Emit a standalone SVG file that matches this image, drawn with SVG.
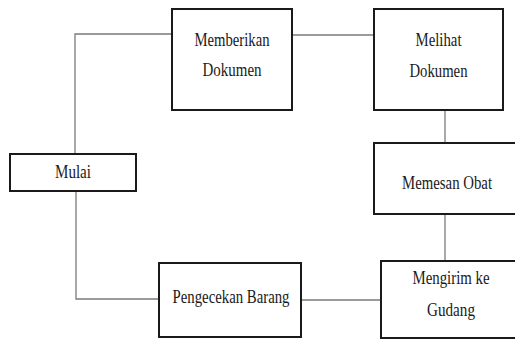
<svg xmlns="http://www.w3.org/2000/svg" width="515" height="341" viewBox="0 0 515 341">
<style>
.box{fill:#fff;stroke:#1a1a1a;stroke-width:2}
.ln{fill:none;stroke:#7a7a7a;stroke-width:1.3}
text{font-family:"Liberation Serif","Times New Roman",serif;font-size:19px;fill:#1a1a1a;text-anchor:middle}
</style>
<rect width="515" height="341" fill="#fff"/>
<g id="connectors">
<polyline class="ln" points="75,154 75,34 172,34"/>
<line class="ln" x1="292" y1="35" x2="374" y2="35"/>
<line class="ln" x1="445" y1="110" x2="445" y2="143"/>
<line class="ln" x1="445" y1="214" x2="445" y2="261"/>
<line class="ln" x1="381" y1="300" x2="301" y2="300"/>
<polyline class="ln" points="159,299 76,299 76,191"/>
</g>
<g id="mulai">
<rect class="box" x="10" y="154" width="126" height="37"/>
<text x="73" y="177.5" textLength="36" lengthAdjust="spacingAndGlyphs">Mulai</text>
</g>
<g id="memberikan">
<rect class="box" x="172" y="9" width="120" height="101"/>
<text x="232" y="45.5" textLength="75" lengthAdjust="spacingAndGlyphs">Memberikan</text>
<text x="232" y="75.5" textLength="59" lengthAdjust="spacingAndGlyphs">Dokumen</text>
</g>
<g id="melihat">
<rect class="box" x="374" y="9" width="129" height="101"/>
<text x="438.5" y="45.5" textLength="46" lengthAdjust="spacingAndGlyphs">Melihat</text>
<text x="438.5" y="76.5" textLength="58" lengthAdjust="spacingAndGlyphs">Dokumen</text>
</g>
<g id="memesan">
<rect class="box" x="374" y="143" width="142" height="71"/>
<text x="447" y="188.5" textLength="90" lengthAdjust="spacingAndGlyphs">Memesan Obat</text>
</g>
<g id="mengirim">
<rect class="box" x="381" y="261" width="135" height="77"/>
<text x="451" y="283.5" textLength="77" lengthAdjust="spacingAndGlyphs">Mengirim ke</text>
<text x="451" y="315.5" textLength="48" lengthAdjust="spacingAndGlyphs">Gudang</text>
</g>
<g id="pengecekan">
<rect class="box" x="159" y="263" width="142" height="74"/>
<text x="231" y="302.5" textLength="117" lengthAdjust="spacingAndGlyphs">Pengecekan Barang</text>
</g>
</svg>
